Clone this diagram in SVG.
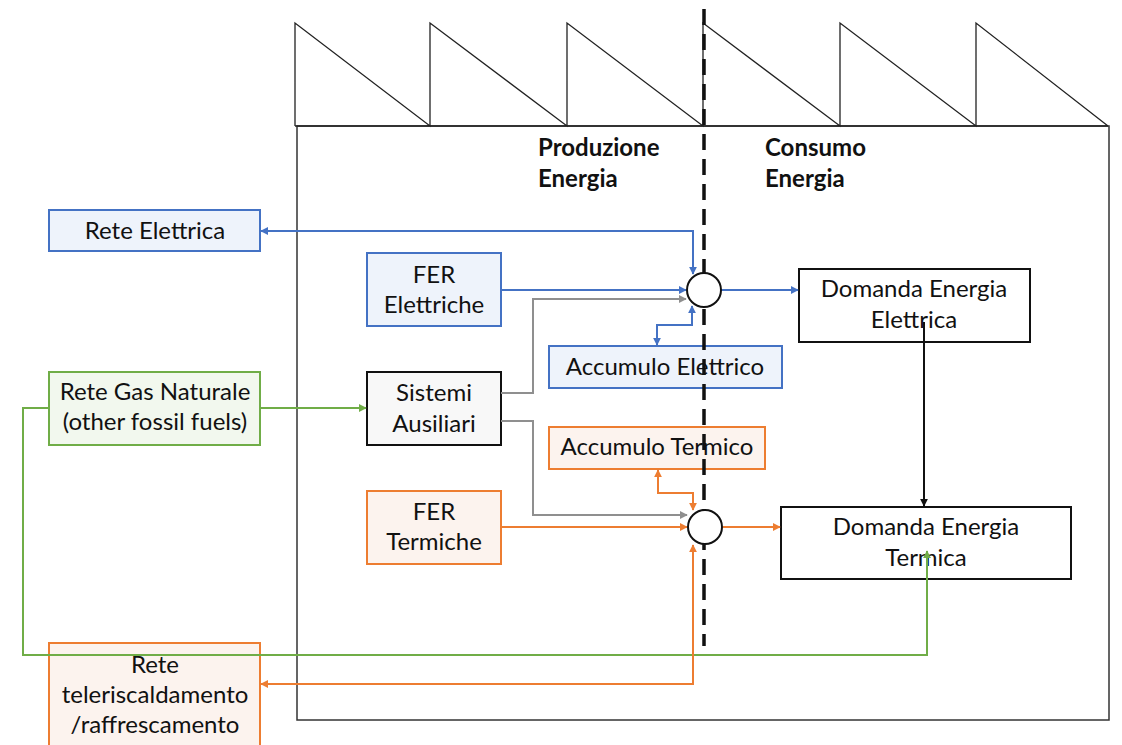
<svg xmlns="http://www.w3.org/2000/svg" width="1122" height="745" viewBox="0 0 1122 745">
  <defs>
    <style>
      .lbl { font-family: "Lato", "Open Sans", "Liberation Sans", sans-serif; font-size: 24px; fill: #111; text-anchor: middle; }
      .head { font-family: "Lato", "Open Sans", "Liberation Sans", sans-serif; font-size: 24px; font-weight: bold; fill: #111; }
      .elec { fill: #EEF3FB; stroke: #4472C4; stroke-width: 2; }
      .therm { fill: #FCF3EE; stroke: #ED7D31; stroke-width: 2; }
      .gas { fill: #F2F8EE; stroke: #70AD47; stroke-width: 2; }
      .aux { fill: #F8F8F8; stroke: #111; stroke-width: 2; }
      .dem { fill: #FFFFFF; stroke: #111; stroke-width: 2; }
      .node-c { fill: #FFFFFF; stroke: #111; stroke-width: 2; }
      .wire { fill: none; stroke-width: 2; }
      .w-blue { stroke: #4472C4; }
      .w-orange { stroke: #ED7D31; }
      .w-green { stroke: #70AD47; }
      .w-gray { stroke: #8F8F8F; }
      .w-black { stroke: #111; }
      .roof { fill: none; stroke: #222; stroke-width: 1.3; }
    </style>
    <marker id="ah-blue" viewBox="0 0 10 10" refX="9" refY="5" markerWidth="8" markerHeight="8" markerUnits="userSpaceOnUse" orient="auto-start-reverse"><path d="M0,0 L10,5 L0,10 z" fill="#4472C4"/></marker>
    <marker id="ah-orange" viewBox="0 0 10 10" refX="9" refY="5" markerWidth="8" markerHeight="8" markerUnits="userSpaceOnUse" orient="auto-start-reverse"><path d="M0,0 L10,5 L0,10 z" fill="#ED7D31"/></marker>
    <marker id="ah-green" viewBox="0 0 10 10" refX="9" refY="5" markerWidth="8" markerHeight="8" markerUnits="userSpaceOnUse" orient="auto-start-reverse"><path d="M0,0 L10,5 L0,10 z" fill="#70AD47"/></marker>
    <marker id="ah-gray" viewBox="0 0 10 10" refX="9" refY="5" markerWidth="8" markerHeight="8" markerUnits="userSpaceOnUse" orient="auto-start-reverse"><path d="M0,0 L10,5 L0,10 z" fill="#8F8F8F"/></marker>
    <marker id="ah-black" viewBox="0 0 10 10" refX="9" refY="5" markerWidth="8" markerHeight="8" markerUnits="userSpaceOnUse" orient="auto-start-reverse"><path d="M0,0 L10,5 L0,10 z" fill="#111"/></marker>
  </defs>

  <rect width="1122" height="745" fill="#FFFFFF"/>

  <!-- factory building with sawtooth roof -->
  <g id="building">
    <rect x="297" y="126" width="812" height="594" fill="none" stroke="#333" stroke-width="1.5"/>
    <path class="roof" d="M295,126 H1108 M295,126 V23 L430,126 V23 L567,126 V23 L703,126 V23 L840,126 V23 L976,126 V23 L1108,126"/>
  </g>

  <g id="headings">
    <text class="head" x="538" y="156">Produzione</text>
    <text class="head" x="538" y="187">Energia</text>
    <text class="head" x="765" y="156">Consumo</text>
    <text class="head" x="765" y="187">Energia</text>
  </g>

  <g id="rete-elettrica">
    <rect class="elec" x="49" y="210" width="211" height="41"/>
    <text class="lbl" x="155" y="239">Rete Elettrica</text>
  </g>
  <g id="rete-gas">
    <rect class="gas" x="49" y="372" width="211" height="73"/>
    <text class="lbl" x="155" y="400">Rete Gas Naturale</text>
    <text class="lbl" x="155" y="430">(other fossil fuels)</text>
  </g>
  <g id="rete-teleriscaldamento">
    <rect class="therm" x="49" y="643" width="211" height="110"/>
    <text class="lbl" x="155" y="673">Rete</text>
    <text class="lbl" x="155" y="703">teleriscaldamento</text>
    <text class="lbl" x="155" y="733">/raffrescamento</text>
  </g>
  <g id="fer-elettriche">
    <rect class="elec" x="367" y="253" width="134" height="73"/>
    <text class="lbl" x="434" y="283">FER</text>
    <text class="lbl" x="434" y="313">Elettriche</text>
  </g>
  <g id="sistemi-ausiliari">
    <rect class="aux" x="367" y="372" width="134" height="73"/>
    <text class="lbl" x="434" y="401">Sistemi</text>
    <text class="lbl" x="434" y="432">Ausiliari</text>
  </g>
  <g id="fer-termiche">
    <rect class="therm" x="367" y="491" width="134" height="73"/>
    <text class="lbl" x="434" y="520">FER</text>
    <text class="lbl" x="434" y="550">Termiche</text>
  </g>
  <g id="accumulo-elettrico">
    <rect class="elec" x="549" y="346" width="233" height="42"/>
    <text class="lbl" x="665" y="375">Accumulo Elettrico</text>
  </g>
  <g id="accumulo-termico">
    <rect class="therm" x="549" y="427" width="216" height="42"/>
    <text class="lbl" x="657" y="455">Accumulo Termico</text>
  </g>
  <g id="domanda-elettrica">
    <rect class="dem" x="799" y="269" width="231" height="73"/>
    <text class="lbl" x="914" y="297">Domanda Energia</text>
    <text class="lbl" x="914" y="328">Elettrica</text>
  </g>
  <g id="domanda-termica">
    <rect class="dem" x="781" y="507" width="290" height="72"/>
    <text class="lbl" x="926" y="535">Domanda Energia</text>
    <text class="lbl" x="926" y="566">Termica</text>
  </g>

  <!-- production / consumption boundary -->
  <line id="boundary" x1="704" y1="9" x2="704" y2="646" stroke="#111" stroke-width="3.5" stroke-dasharray="16 9"/>

  <g id="connectors">
    <!-- electrical side -->
    <path class="wire w-blue" d="M693,274 V231 H261" marker-start="url(#ah-blue)" marker-end="url(#ah-blue)"/>
    <path class="wire w-blue" d="M501,290 H686" marker-end="url(#ah-blue)"/>
    <path class="wire w-blue" d="M657,345 V325 H692 V306" marker-start="url(#ah-blue)" marker-end="url(#ah-blue)"/>
    <path class="wire w-blue" d="M721,290 H798" marker-end="url(#ah-blue)"/>
    <!-- auxiliary systems -->
    <path class="wire w-gray" d="M501,393 H533 V299 H686" marker-end="url(#ah-gray)"/>
    <path class="wire w-gray" d="M501,421 H533 V515 H687" marker-end="url(#ah-gray)"/>
    <!-- gas -->
    <path class="wire w-green" d="M260,408 H366" marker-end="url(#ah-green)"/>
    <path class="wire w-green" d="M49,408 H23 V655 H927 V551" marker-end="url(#ah-green)"/>
    <!-- thermal side -->
    <path class="wire w-orange" d="M501,527 H687" marker-end="url(#ah-orange)"/>
    <path class="wire w-orange" d="M658,470 V493 H693 V510" marker-start="url(#ah-orange)" marker-end="url(#ah-orange)"/>
    <path class="wire w-orange" d="M723,527 H780" marker-end="url(#ah-orange)"/>
    <path class="wire w-orange" d="M693,545 V684 H261" marker-start="url(#ah-orange)" marker-end="url(#ah-orange)"/>
    <!-- electric demand feeding thermal demand -->
    <path class="wire w-black" d="M924,322 V506" marker-end="url(#ah-black)"/>
  </g>

  <g id="nodo-elettrico">
    <circle class="node-c" cx="704" cy="290" r="17"/>
  </g>
  <g id="nodo-termico">
    <circle class="node-c" cx="705" cy="527" r="17"/>
  </g>
</svg>
